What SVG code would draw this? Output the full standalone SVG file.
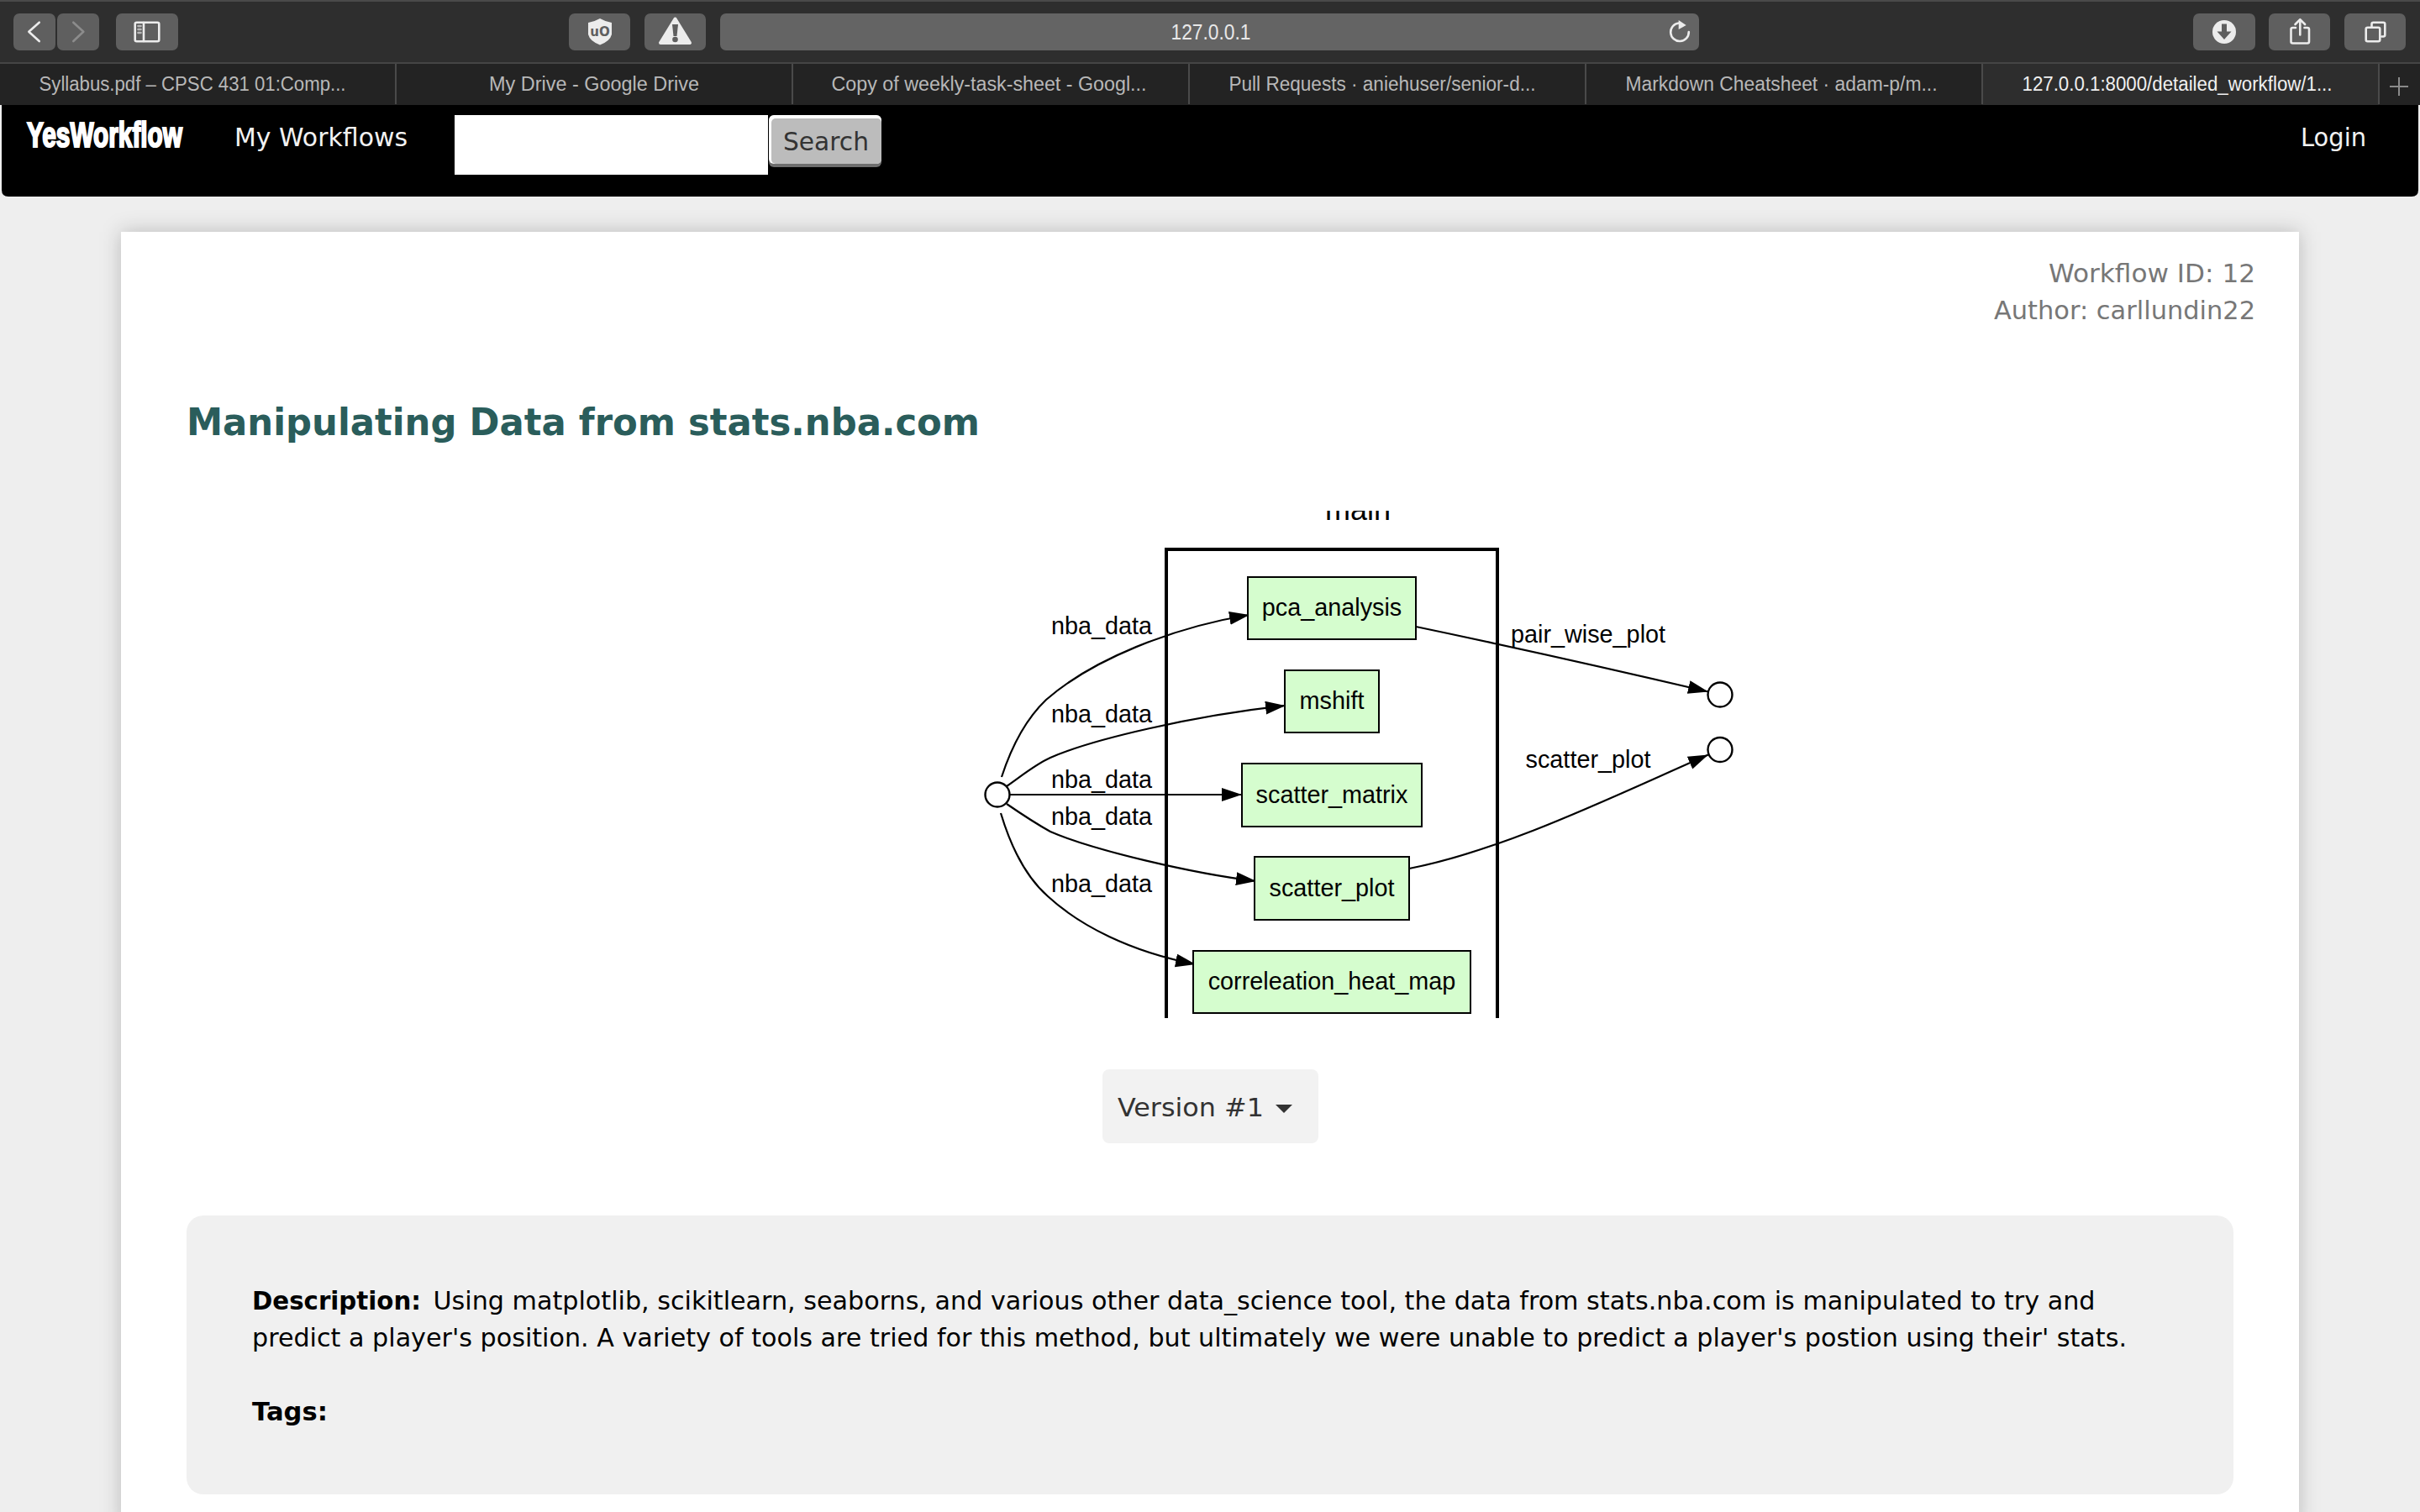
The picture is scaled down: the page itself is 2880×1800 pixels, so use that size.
<svg xmlns="http://www.w3.org/2000/svg" width="2880" height="1800" viewBox="0 0 2880 1800">
<style>
.tb{fill:#5f5f5f}
.tab{font:23px "Liberation Sans",Arial,sans-serif;fill:#b8b8b8;text-anchor:middle}
.sep{stroke:#4a4a4a;stroke-width:2}
.ic{fill:none;stroke:#ececec;stroke-width:2.6;stroke-linecap:round;stroke-linejoin:round}
.dv{font-family:"DejaVu Sans",Verdana,sans-serif}
.gv{font-family:"Liberation Sans",Arial,sans-serif;font-size:28.8px;fill:#000}
.mid{text-anchor:middle}
.proc{fill:#d5fdce;stroke:#000;stroke-width:2}
.port{fill:#fff;stroke:#000;stroke-width:2.4}
.edge{fill:none;stroke:#000;stroke-width:2.2;marker-end:url(#arrow)}
</style>
<defs>
<filter id="shadow" x="-5%" y="-5%" width="110%" height="110%"><feGaussianBlur stdDeviation="12"/></filter>
<clipPath id="graphclip"><rect x="1100" y="608" width="1100" height="604"/></clipPath>
<marker id="arrow" markerUnits="userSpaceOnUse" markerWidth="26" markerHeight="20" refX="24" refY="8" orient="auto"><path d="M0,0 L24,8 L0,16 Z" fill="#000"/></marker>
</defs>
<rect width="2880" height="1800" fill="#eeeeee"/>
<g id="browser-chrome">
<rect width="2880" height="76" fill="#2e2e2e"/>
<rect width="2880" height="2" fill="#4a4a4a"/>
<rect y="74" width="2880" height="2" fill="#454545"/>
<rect y="76" width="2880" height="49" fill="#232323"/>
<rect x="2359" y="76" width="472" height="49" fill="#2d2d2d"/>
<rect class="tb" x="16" y="16" width="50" height="44" rx="7"/>
<rect class="tb" x="68" y="16" width="50" height="44" rx="7"/>
<rect class="tb" x="138" y="16" width="74" height="44" rx="7"/>
<rect class="tb" x="677" y="16" width="73" height="44" rx="7"/>
<rect class="tb" x="767" y="16" width="73" height="44" rx="7"/>
<rect x="857" y="16" width="1165" height="44" rx="7" fill="#646464"/>
<rect class="tb" x="2610" y="16" width="74" height="44" rx="7"/>
<rect class="tb" x="2700" y="16" width="73" height="44" rx="7"/>
<rect class="tb" x="2790" y="16" width="73" height="44" rx="7"/>
<path class="ic" stroke-width="3" d="M46.700,26.700 L34.300,37.700 L46.700,49"/>
<path class="ic" style="stroke:#8c8c8c" d="M87.300,26.700 L99.300,37.700 L87.300,49"/>
<rect class="ic" x="160.700" y="26.700" width="28.600" height="22.600" rx="2"/>
<path class="ic" d="M171,27v22"/>
<path class="ic" style="stroke:#b8b8b8" stroke-width="2" d="M164.500,31h3M164.500,35h3M164.500,39h3"/>
<path d="M714,22 Q721,26 728,27 V41 Q726,49 714,53.500 Q702,49 700,41 V27 Q707,26 714,22 Z" fill="#ececec"/>
<text x="714" y="43" font-family="DejaVu Sans,sans-serif" font-weight="700" font-size="15" fill="#5f5f5f" text-anchor="middle">uO</text>
<path d="M803.500,22.500 L821,51 H786 Z" fill="#ececec" stroke="#ececec" stroke-width="4" stroke-linejoin="round"/>
<path d="M800,29 h7 l-1.500,14 h-4 Z" fill="#5f5f5f"/>
<circle cx="803.500" cy="47" r="3.300" fill="#5f5f5f"/>
<path class="ic" d="M1998,27.500 A10.800,10.800 0 1 0 2009.800,38"/>
<path d="M1997.700,24 L2006.700,30 L1997.700,35 Z" fill="#ececec"/>
<circle cx="2647" cy="38" r="14" fill="#ececec"/>
<path d="M2644,28.500h6v9h5.500l-8.500,9.500l-8.500,-9.500h5.500z" fill="#5f5f5f"/>
<path class="ic" d="M2732,33 h-3.500 q-2,0 -2,2 v14.500 q0,2 2,2 h17.500 q2,0 2,-2 v-14.500 q0,-2 -2,-2 h-3.500 M2737.300,23.500 v18 M2731.500,29 l5.800,-5.800 l5.800,5.800"/>
<rect class="ic" x="2815.700" y="32.700" width="16.600" height="16.600" rx="2"/>
<path class="ic" d="M2822.500,32 v-3.300 q0,-2 2,-2 h11.800 q2,0 2,2 v12.800 q0,2 -2,2 h-2"/>
<text class="tab" x="1441" y="47" style="fill:#e8e8e8;font-size:25px" textLength="95" lengthAdjust="spacingAndGlyphs">127.0.0.1</text>
<path class="sep" d="M471,76v48M943,76v48M1415,76v48M1887,76v48M2359,76v48M2831,76v48"/>
<text class="tab" x="229" y="108" textLength="365" lengthAdjust="spacingAndGlyphs">Syllabus.pdf – CPSC 431 01:Comp...</text>
<text class="tab" x="707" y="108" textLength="250" lengthAdjust="spacingAndGlyphs">My Drive - Google Drive</text>
<text class="tab" x="1177" y="108" textLength="375" lengthAdjust="spacingAndGlyphs">Copy of weekly-task-sheet - Googl...</text>
<text class="tab" x="1645" y="108" textLength="365" lengthAdjust="spacingAndGlyphs">Pull Requests · aniehuser/senior-d...</text>
<text class="tab" x="2120" y="108" textLength="371" lengthAdjust="spacingAndGlyphs">Markdown Cheatsheet · adam-p/m...</text>
<text class="tab" x="2591" y="108" style="fill:#f0f0f0" textLength="369" lengthAdjust="spacingAndGlyphs">127.0.0.1:8000/detailed_workflow/1...</text>
<path d="M2855,92v22M2844,103h22" stroke="#8a8a8a" stroke-width="2"/>
</g>
<g id="navbar">
<path d="M2,125 H2878 V226 Q2878,234 2870,234 H10 Q2,234 2,226 Z" fill="#000"/>
<text x="32" y="175" font-family="Liberation Sans,sans-serif" font-weight="700" font-size="42" fill="#fff" stroke="#fff" stroke-width="2.200" textLength="185" lengthAdjust="spacingAndGlyphs">YesWorkflow</text>
<text class="dv" x="279" y="174" font-size="31" fill="#f2f2f2" textLength="206" lengthAdjust="spacingAndGlyphs">My Workflows</text>
<rect x="541" y="137" width="373" height="71" fill="#fff"/>
<rect x="915" y="137" width="134" height="62" rx="6" fill="#6e6e6e"/>
<rect x="915" y="137" width="134" height="58" rx="6" fill="#fff"/>
<rect x="918" y="141" width="131" height="54" rx="5" fill="#bcbcbc"/>
<text class="dv" x="932" y="179" font-size="31" fill="#333" textLength="102" lengthAdjust="spacingAndGlyphs">Search</text>
<text class="dv" x="2738" y="174" font-size="31" fill="#f2f2f2" textLength="78" lengthAdjust="spacingAndGlyphs">Login</text>
</g>
<rect x="144" y="276" width="2592" height="1540" fill="#000" fill-opacity=".22" filter="url(#shadow)"/>
<rect id="card" x="144" y="276" width="2592" height="1524" fill="#fff"/>
<g id="header">
<text class="dv" x="2438" y="336" font-size="30" fill="#777" textLength="246" lengthAdjust="spacingAndGlyphs">Workflow ID: 12</text>
<text class="dv" x="2373" y="380" font-size="30" fill="#777" textLength="311" lengthAdjust="spacingAndGlyphs">Author: carllundin22</text>
<text class="dv" x="222" y="518" font-size="45" font-weight="700" fill="#2a5d5b" textLength="944" lengthAdjust="spacingAndGlyphs">Manipulating Data from stats.nba.com</text>
</g>
<g id="graph" clip-path="url(#graphclip)">
<g id="cluster-main">
<text x="1616" y="619" font-family="Liberation Sans,Arial,sans-serif" font-size="36" text-anchor="middle">main</text>
<rect x="1388" y="654" width="394" height="620" fill="none" stroke="#000" stroke-width="4"/>
</g>
<g id="connectors">
<path class="edge" d="M1192,925 C1205,885 1222,855 1245,833 C1300,785 1395,747 1487,732"/>
<path class="edge" d="M1198,936 C1214,925 1232,910 1250,902 C1300,880 1420,852 1530,840"/>
<path class="edge" d="M1202,946 H1478"/>
<path class="edge" d="M1198,957 C1214,968 1232,980 1250,990 C1300,1012 1420,1040 1495,1049"/>
<path class="edge" d="M1191,968 C1203,1008 1222,1045 1247,1067 C1285,1102 1345,1133 1423,1148"/>
<path class="edge" d="M1685,746 C1790,768 1920,797 2033,823.500"/>
<path class="edge" d="M1677,1034 C1790,1012 1920,948 2033,898.500"/>
</g>
<g id="edge-labels" class="gv">
<text x="1251" y="755">nba_data</text>
<text x="1251" y="860">nba_data</text>
<text x="1251" y="938">nba_data</text>
<text x="1251" y="982">nba_data</text>
<text x="1251" y="1062">nba_data</text>
<text x="1890" y="765" class="mid">pair_wise_plot</text>
<text x="1890" y="914" class="mid">scatter_plot</text>
</g>
<g id="n-source"><ellipse class="port" cx="1187" cy="946" rx="14.500" ry="14.500"/></g>
<g id="n-out-1"><ellipse class="port" cx="2047" cy="827" rx="14.500" ry="14.500"/></g>
<g id="n-out-2"><ellipse class="port" cx="2047" cy="892.500" rx="14.500" ry="14.500"/></g>
<g id="n-pca"><rect class="proc" x="1485" y="687" width="200" height="74"/><text class="gv mid" x="1585" y="733">pca_analysis</text></g>
<g id="n-mshift"><rect class="proc" x="1529" y="798" width="112" height="74"/><text class="gv mid" x="1585" y="844">mshift</text></g>
<g id="n-matrix"><rect class="proc" x="1478" y="909" width="214" height="75"/><text class="gv mid" x="1585" y="956">scatter_matrix</text></g>
<g id="n-plot"><rect class="proc" x="1493" y="1020" width="184" height="75"/><text class="gv mid" x="1585" y="1067">scatter_plot</text></g>
<g id="n-heat"><rect class="proc" x="1420" y="1132" width="330" height="74"/><text class="gv mid" x="1585" y="1178">correleation_heat_map</text></g>
</g>
<g id="version">
<rect x="1312" y="1273" width="257" height="88" rx="8" fill="#f2f2f2"/>
<text class="dv" x="1330" y="1329" font-size="31" fill="#333" textLength="174" lengthAdjust="spacingAndGlyphs">Version #1</text>
<path d="M1518,1315h20l-10,10z" fill="#333"/>
</g>
<g id="description">
<rect x="222" y="1447" width="2436" height="332" rx="20" fill="#f0f0f0"/>
<text class="dv" x="300" y="1558.500" font-size="29.500" font-weight="700" fill="#000" textLength="201" lengthAdjust="spacingAndGlyphs">Description:</text>
<text class="dv" x="515.500" y="1558.500" font-size="29.500" fill="#000" textLength="1978" lengthAdjust="spacingAndGlyphs">Using matplotlib, scikitlearn, seaborns, and various other data_science tool, the data from stats.nba.com is manipulated to try and</text>
<text class="dv" x="300" y="1602.500" font-size="29.500" fill="#000" textLength="2231" lengthAdjust="spacingAndGlyphs">predict a player's position. A variety of tools are tried for this method, but ultimately we were unable to predict a player's postion using their' stats.</text>
<text class="dv" x="300" y="1691" font-size="29.500" font-weight="700" fill="#000" textLength="90" lengthAdjust="spacingAndGlyphs">Tags:</text>
</g>
</svg>
